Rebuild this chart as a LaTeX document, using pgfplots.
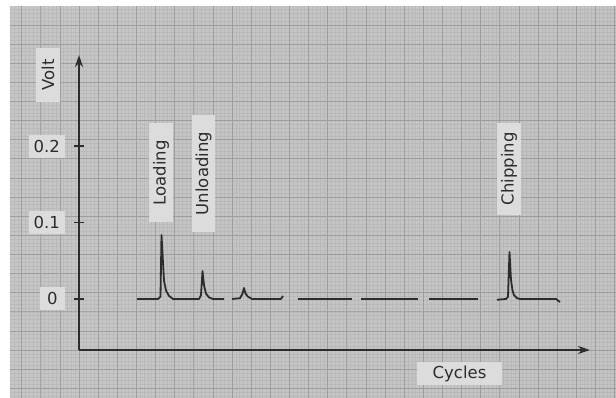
\documentclass[border=0pt]{standalone}
\usepackage{pgfplots}
\pgfplotsset{compat=1.18}
\usepackage{fontspec}
\setmainfont{DejaVu Sans}
\usetikzlibrary{arrows.meta}

\definecolor{ink}{HTML}{2C2C2C}
\definecolor{paperL}{HTML}{C6C6C6}
\definecolor{paperM}{HTML}{A9A9A9}
\definecolor{paperR}{HTML}{C4C4C4}
\definecolor{boxfill}{HTML}{DCDCDC}

\newcommand{\lab}{\fontsize{16.5}{20}\selectfont}

\begin{document}
\begin{tikzpicture}[x=1pt,y=1pt]
\useasboundingbox (0,0) rectangle (616,397);
% graph paper
\shade[left color=paperL, middle color=paperM, right color=paperR] (10,0) rectangle (616,390);
\begin{scope}
  \clip (10,0) rectangle (616,390);
  \begin{scope}[shift={(79,47)}]
    \draw[black, opacity=0.06, line width=0.5pt, step=3.825] (-72,-50) grid (540,345);
    \draw[black, opacity=0.15, line width=0.7pt, step=19.125] (-72,-50) grid (540,345);
  \end{scope}
\end{scope}

\begin{axis}[
  at={(79pt,47pt)}, anchor=south west,
  scale only axis, width=511pt, height=295pt,
  xmin=0, xmax=511, ymin=-0.0667, ymax=0.319,
  axis x line=bottom, axis y line=left,
  axis line style={line width=1.8pt, draw=ink, -{Stealth[length=12pt,width=8pt]}},
  xtick=\empty,
  ytick={0,0.1,0.2}, yticklabels={0,0.1,0.2},
  major tick length=10pt, tick align=center,
  tick style={line width=1.4pt, draw=ink},
  yticklabel style={anchor=east, xshift=-9pt, fill=boxfill, text=ink,
    inner xsep=5pt, minimum width=25pt, minimum height=23pt, font=\lab},
  clip=false,
]
% loading / unloading peaks
\addplot[ink, line width=1.8pt, line join=round] coordinates {
  (58,0) (79,0) (81.5,0.003) (82.5,0.0837) (84,0.048) (85,0.024) (87,0.011)
  (90,0.004) (94,0) (120,0) (122,0.005) (123.5,0.0366) (125,0.018)
  (127,0.007) (130,0.002) (134,0) (145,0)};
\addplot[ink, line width=1.8pt, line join=round] coordinates {
  (153,0) (161,0.001) (163.5,0.007) (165,0.0144) (166.5,0.007) (169,0.003)
  (173,0) (202,0) (204,0.004)};
\addplot[ink, line width=1.8pt] coordinates {(219,0) (273,0)};
\addplot[ink, line width=1.8pt] coordinates {(282,0) (339,0)};
\addplot[ink, line width=1.8pt] coordinates {(350,0) (399,0)};
% chipping peak
\addplot[ink, line width=1.8pt, line join=round] coordinates {
  (418,-0.001) (427,0) (429,0.003) (430.5,0.0614) (432,0.025) (433.5,0.011)
  (435,0.005) (438,0.001) (441,0) (477,0) (481,-0.004)};

\tikzset{tag/.style={fill=boxfill, text=ink, font=\lab, inner sep=0pt}}
\node[tag, rotate=90, minimum width=99pt, minimum height=24pt] at (axis cs:82,0.165) {Loading};
\node[tag, rotate=90, minimum width=117pt, minimum height=23pt] at (axis cs:124.5,0.164) {Unloading};
\node[tag, rotate=90, minimum width=92pt, minimum height=24pt] at (axis cs:430,0.170) {Chipping};
\node[tag, minimum width=85pt, minimum height=23pt] at (axis cs:380.5,-0.0974) {Cycles};
\node[tag, rotate=90, minimum width=54pt, minimum height=24pt] at (axis cs:-31,0.293) {Volt};
\end{axis}
\end{tikzpicture}
\end{document}
